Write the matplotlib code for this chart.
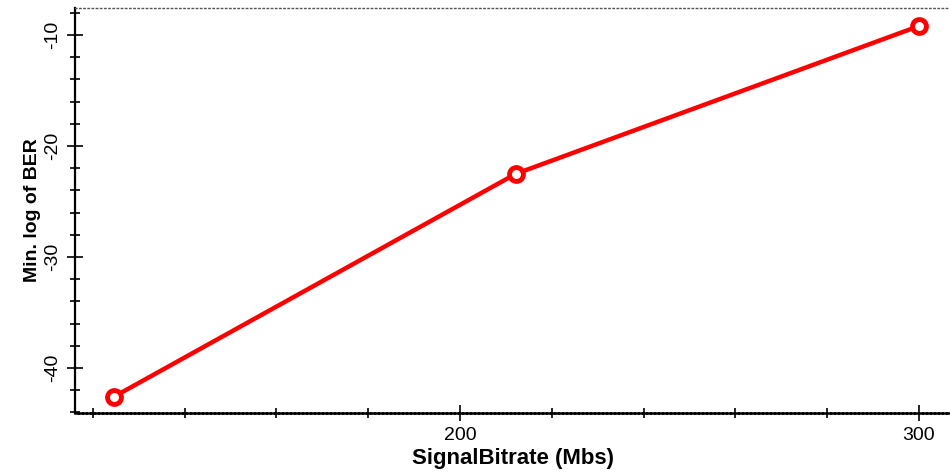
import matplotlib
matplotlib.use("Agg")
import matplotlib.pyplot as plt
from matplotlib.ticker import MultipleLocator

bitrate = [124.5, 212.2, 300.0]
min_log_ber = [-42.6, -22.5, -9.2]
x_ticks = [200, 300]
y_ticks = [-40, -30, -20, -10]

plt.rcParams['font.family'] = ['Liberation Sans', 'DejaVu Sans']
plt.rcParams['axes.unicode_minus'] = False

fig = plt.figure(figsize=(9.5, 4.72), dpi=100)
ax = fig.add_axes([0.079, 0.125, 0.921, 0.858])

ax.plot(bitrate, min_log_ber, color='#ff0000', lw=3.2, marker='o', ms=10,
        mfc='white', mec='#ff0000', mew=3.5, solid_capstyle='round')

ax.set_xlim(116.1, 306.8)
ax.set_ylim(-44.05, -7.57)
ax.set_xticks(x_ticks)
ax.set_yticks(y_ticks)
ax.xaxis.set_minor_locator(MultipleLocator(20))
ax.yaxis.set_minor_locator(MultipleLocator(2))

ax.tick_params(axis='both', which='major', direction='inout', length=12, width=1.2,
               labelsize=14, colors='black')
ax.tick_params(axis='both', which='minor', direction='inout', length=7, width=1.2)
ax.tick_params(axis='x', which='major', pad=4)
ax.tick_params(axis='y', which='major', pad=4)
for lab in ax.get_yticklabels():
    lab.set_rotation(90)
    lab.set_va('center')

ax.spines['right'].set_visible(False)
ax.spines['top'].set_linestyle((0, (1, 2)))
ax.spines['top'].set_color('#555555')
ax.spines['top'].set_linewidth(1.0)
ax.spines['bottom'].set_linestyle((0, (1, 0.6)))
ax.spines['bottom'].set_linewidth(1.8)
ax.spines['left'].set_linewidth(1.6)

ax.set_xlabel('SignalBitrate (Mbs)', fontsize=16, fontweight='bold', labelpad=3)
ax.set_ylabel('Min. log of BER', fontsize=14, fontweight='bold', labelpad=2)

fig.savefig('out.png', dpi=100)
